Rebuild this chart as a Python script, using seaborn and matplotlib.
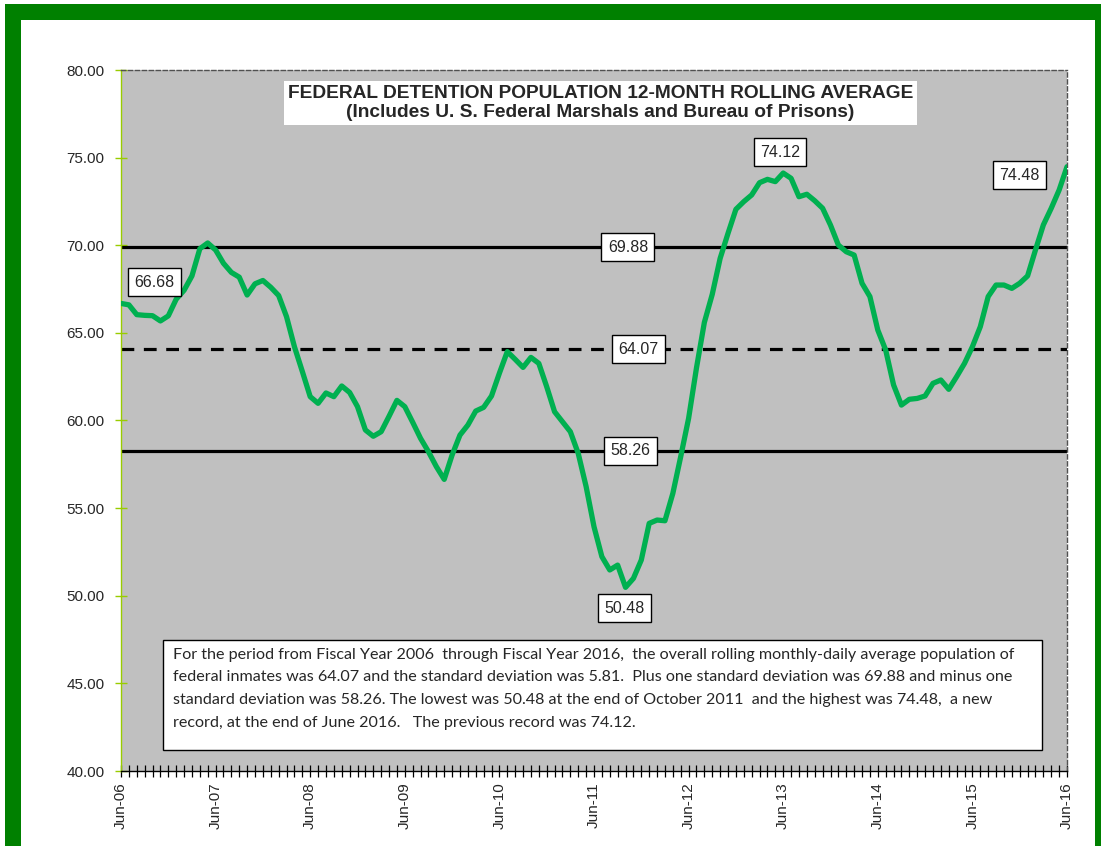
import numpy as np
import pandas as pd
import matplotlib
matplotlib.use("Agg")
from matplotlib import pyplot as plt
from matplotlib.patches import Rectangle
from matplotlib.ticker import MultipleLocator
import seaborn as sns

# monthly 12-month rolling average, Jun-06 .. Jun-16 (thousands)
rolling_avg = [
    66.68, 66.60, 66.04, 66.00, 65.98, 65.68, 65.97, 66.92, 67.43, 68.25,
    69.80, 70.13, 69.73, 68.97, 68.45, 68.18, 67.16, 67.80, 67.99, 67.60,
    67.13, 65.92, 64.21, 62.80, 61.36, 60.98, 61.57, 61.36, 61.97, 61.60,
    60.79, 59.46, 59.10, 59.36, 60.24, 61.15, 60.79, 59.90, 58.98, 58.22,
    57.37, 56.64, 58.03, 59.17, 59.74, 60.54, 60.75, 61.40, 62.70, 63.93,
    63.49, 63.03, 63.60, 63.26, 61.93, 60.50, 59.93, 59.36, 58.12, 56.23,
    53.94, 52.23, 51.47, 51.75, 50.48, 50.99, 52.04, 54.13, 54.32, 54.28,
    55.84, 57.94, 60.12, 63.00, 65.60, 67.20, 69.25, 70.68, 72.05, 72.49,
    72.87, 73.57, 73.76, 73.63, 74.12, 73.82, 72.77, 72.91, 72.54, 72.11,
    71.15, 70.01, 69.63, 69.44, 67.83, 67.07, 65.16, 64.02, 62.03, 60.88,
    61.21, 61.26, 61.40, 62.12, 62.31, 61.78, 62.50, 63.26, 64.21, 65.35,
    67.07, 67.73, 67.73, 67.54, 67.83, 68.25, 69.73, 71.16, 72.11, 73.15,
    74.48,
]
months = list(range(len(rolling_avg)))
year_labels = ["Jun-06", "Jun-07", "Jun-08", "Jun-09", "Jun-10", "Jun-11",
               "Jun-12", "Jun-13", "Jun-14", "Jun-15", "Jun-16"]

mean_val = 64.07
plus_sd = 69.88
minus_sd = 58.26

# callout labels: (month, value, text)
callouts = [
    (4.2, 67.9, "66.68"),
    (83.6, 75.32, "74.12"),
    (114.0, 74.0, "74.48"),
    (64.3, 69.88, "69.88"),
    (65.6, 64.07, "64.07"),
    (64.6, 58.26, "58.26"),
    (63.9, 49.3, "50.48"),
]

df = pd.DataFrame({"month": months, "population": rolling_avg})

sns.set_style("white")
plt.rcParams["font.family"] = ["Liberation Sans", "DejaVu Sans"]

W, H = 1101, 846
fig = plt.figure(figsize=(W / 100, H / 100), dpi=100)

# green frame
fig.patches.append(Rectangle((5 / W, 0), 1, 1 - 4 / H, transform=fig.transFigure,
                             facecolor="#008000", edgecolor="none", zorder=-2))
fig.patches.append(Rectangle((21 / W, 0), (1095 - 21) / W, 1 - 20 / H,
                             transform=fig.transFigure, facecolor="white",
                             edgecolor="none", zorder=-1))

ax = fig.add_axes([121 / W, 1 - 771 / H, (1067 - 121) / W, (771 - 70) / H])
ax.set_facecolor("#C0C0C0")

ax.axhline(plus_sd, color="black", lw=2.3, zorder=2)
ax.axhline(minus_sd, color="black", lw=2.3, zorder=2)
ax.axhline(mean_val, color="black", lw=2.3, ls=(0, (4, 3)), zorder=2)

sns.lineplot(data=df, x="month", y="population", color="#00B050", lw=3.8,
             ax=ax, zorder=3)

ax.set_xlim(0, 120)
ax.set_ylim(40, 80)
ax.set_xticks(range(0, 121, 12))
ax.set_xticklabels(year_labels, rotation=90, fontsize=11)
ax.xaxis.set_minor_locator(MultipleLocator(1))
ax.yaxis.set_major_locator(MultipleLocator(5))
ax.yaxis.set_major_formatter(matplotlib.ticker.FormatStrFormatter("%.2f"))
ax.tick_params(axis="y", left=True, labelsize=11, direction="inout", length=8,
               color="#99CC00", width=1, pad=8)
ax.tick_params(axis="x", which="both", bottom=True, direction="inout", length=8,
               color="black", width=0.9, pad=4)
ax.set_xlabel("")
ax.set_ylabel("")

for side in ["top", "right"]:
    ax.spines[side].set_linestyle((0, (3, 2)))
    ax.spines[side].set_color("#505050")
    ax.spines[side].set_linewidth(1)
ax.spines["left"].set_color("#99CC00")
ax.spines["left"].set_linewidth(1)
ax.spines["bottom"].set_color("black")
ax.spines["bottom"].set_linewidth(1)

ax.text(0.507, 0.953,
        "FEDERAL DETENTION POPULATION 12-MONTH ROLLING AVERAGE\n"
        "(Includes U. S. Federal Marshals and Bureau of Prisons)",
        transform=ax.transAxes, ha="center", va="center", fontsize=13.8,
        fontweight="bold", linespacing=1.15, zorder=5,
        bbox=dict(boxstyle="square,pad=0.2", fc="white", ec="none"))

for mx, my, label in callouts:
    ax.text(mx, my, label, ha="center", va="center", fontsize=11.5, zorder=6,
            bbox=dict(boxstyle="square,pad=0.4", fc="white", ec="black", lw=1))

# note box
ax.add_patch(Rectangle((0.0444, 0.030), 0.929, 0.157, transform=ax.transAxes,
                       facecolor="white", edgecolor="black", lw=1, zorder=5))
note = ("For the period from Fiscal Year 2006  through Fiscal Year 2016,  the overall rolling monthly-daily average population of\n"
        "federal inmates was 64.07 and the standard deviation was 5.81.  Plus one standard deviation was 69.88 and minus one\n"
        "standard deviation was 58.26. The lowest was 50.48 at the end of October 2011  and the highest was 74.48,  a new\n"
        "record, at the end of June 2016.   The previous record was 74.12.")
ax.text(0.055, 0.176, note, transform=ax.transAxes, ha="left", va="top",
        fontsize=11.6, family=["Lato", "DejaVu Sans"], linespacing=1.8, zorder=6)

plt.savefig("out.png", dpi=100)
